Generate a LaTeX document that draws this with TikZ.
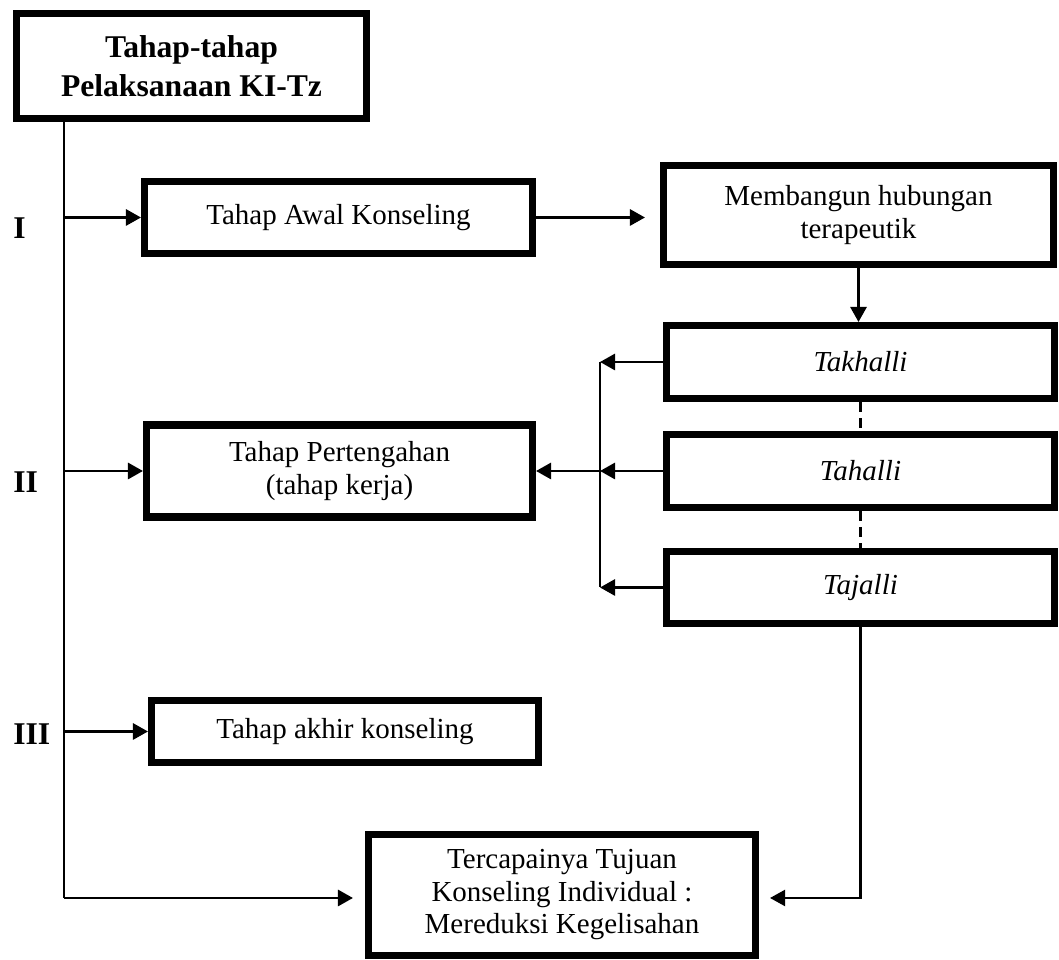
\documentclass[tikz,border=0pt]{standalone}
\usepackage{fontspec}
\setmainfont{Liberation Serif}
\usetikzlibrary{positioning, arrows.meta, calc}

\begin{document}
\begin{tikzpicture}[
  every node/.style={font=\fontsize{16.5}{18.5}\selectfont},
  stage/.style={draw, line width=4pt, align=center, inner sep=2pt},
  roman/.style={anchor=west, inner sep=0pt, font=\fontsize{18}{22}\selectfont\bfseries},
  arr/.style={-{Triangle[length=3mm, width=3.2mm]}, line width=1.6pt},
  thinline/.style={line width=1pt},
  dashline/.style={line width=1.5pt, dash pattern=on 2mm off 1.2mm},
]
  \useasboundingbox (0,0) rectangle (21.18,19.2);

  % Title
  \node[stage, minimum width=7cm, minimum height=2.1cm,
        font=\fontsize{18}{22.5}\selectfont\bfseries] (title) at (3.83,17.88) {Tahap-tahap\\Pelaksanaan KI-Tz};

  % Stage numbers
  \node[roman] (numI) at (0.26,14.64) {I};
  \node[roman] (numII) at (0.26,9.56) {II};
  \node[roman] (numIII) at (0.26,4.52) {III};

  % Left column: the three stages
  \node[stage, minimum width=7.76cm, minimum height=1.44cm] (awal) at (6.77,14.85) {Tahap Awal Konseling};
  \node[stage, minimum width=7.72cm, minimum height=1.84cm] (tengah) at (6.79,9.78) {Tahap Pertengahan\\(tahap kerja)};
  \node[stage, minimum width=7.74cm, minimum height=1.24cm] (akhir) at (6.9,4.57) {Tahap akhir konseling};

  % Right column
  \node[stage, minimum width=7.8cm, minimum height=1.98cm] (bangun) at (17.17,14.9) {Membangun hubungan\\terapeutik};
  \node[stage, minimum width=7.76cm, minimum height=1.46cm] (takhalli) at (17.21,11.96) {\textit{Takhalli}};
  \node[stage, minimum width=7.76cm, minimum height=1.46cm] (tahalli) at (17.21,9.78) {\textit{Tahalli}};
  \node[stage, minimum width=7.76cm, minimum height=1.44cm] (tajalli) at (17.21,7.45) {\textit{Tajalli}};

  % Goal
  \node[stage, minimum width=7.74cm, minimum height=2.42cm] (tujuan) at (11.24,1.3) {Tercapainya Tujuan\\Konseling Individual :\\Mereduksi Kegelisahan};

  % Trunk
  \coordinate (trunk) at (1.28,1.24);
  \coordinate (brk) at (12,0);
  \draw[thinline] (trunk |- title.south) -- (trunk);
  \draw[arr] (trunk |- awal) -- (awal);
  \draw[arr] (trunk |- tengah) -- (tengah);
  \draw[arr] (trunk |- akhir) -- (akhir);
  \draw[arr, shorten >=2.4mm] (trunk) -- (trunk -| tujuan.west);

  % Arrows
  \draw[arr, shorten >=3mm] (awal.east) -- (awal.east -| bangun.west);
  \draw[arr] (bangun.south) -- (bangun.south |- takhalli.north);
  \draw[dashline] (takhalli) -- (tahalli);
  \draw[dashline] (tahalli) -- (tajalli);
  \draw[thinline] (brk |- takhalli) -- (brk |- tajalli);
  \draw[arr] (takhalli.west) -- (brk |- takhalli);
  \draw[arr] (tahalli.west) -- (brk |- tahalli);
  \draw[arr] (tajalli.west) -- (brk |- tajalli);
  \draw[arr] (brk |- tahalli) -- (tengah.east);
  \draw[arr, line width=1.2pt, shorten >=2.2mm] (tajalli.south) |- (tujuan.east |- trunk);
\end{tikzpicture}
\end{document}
